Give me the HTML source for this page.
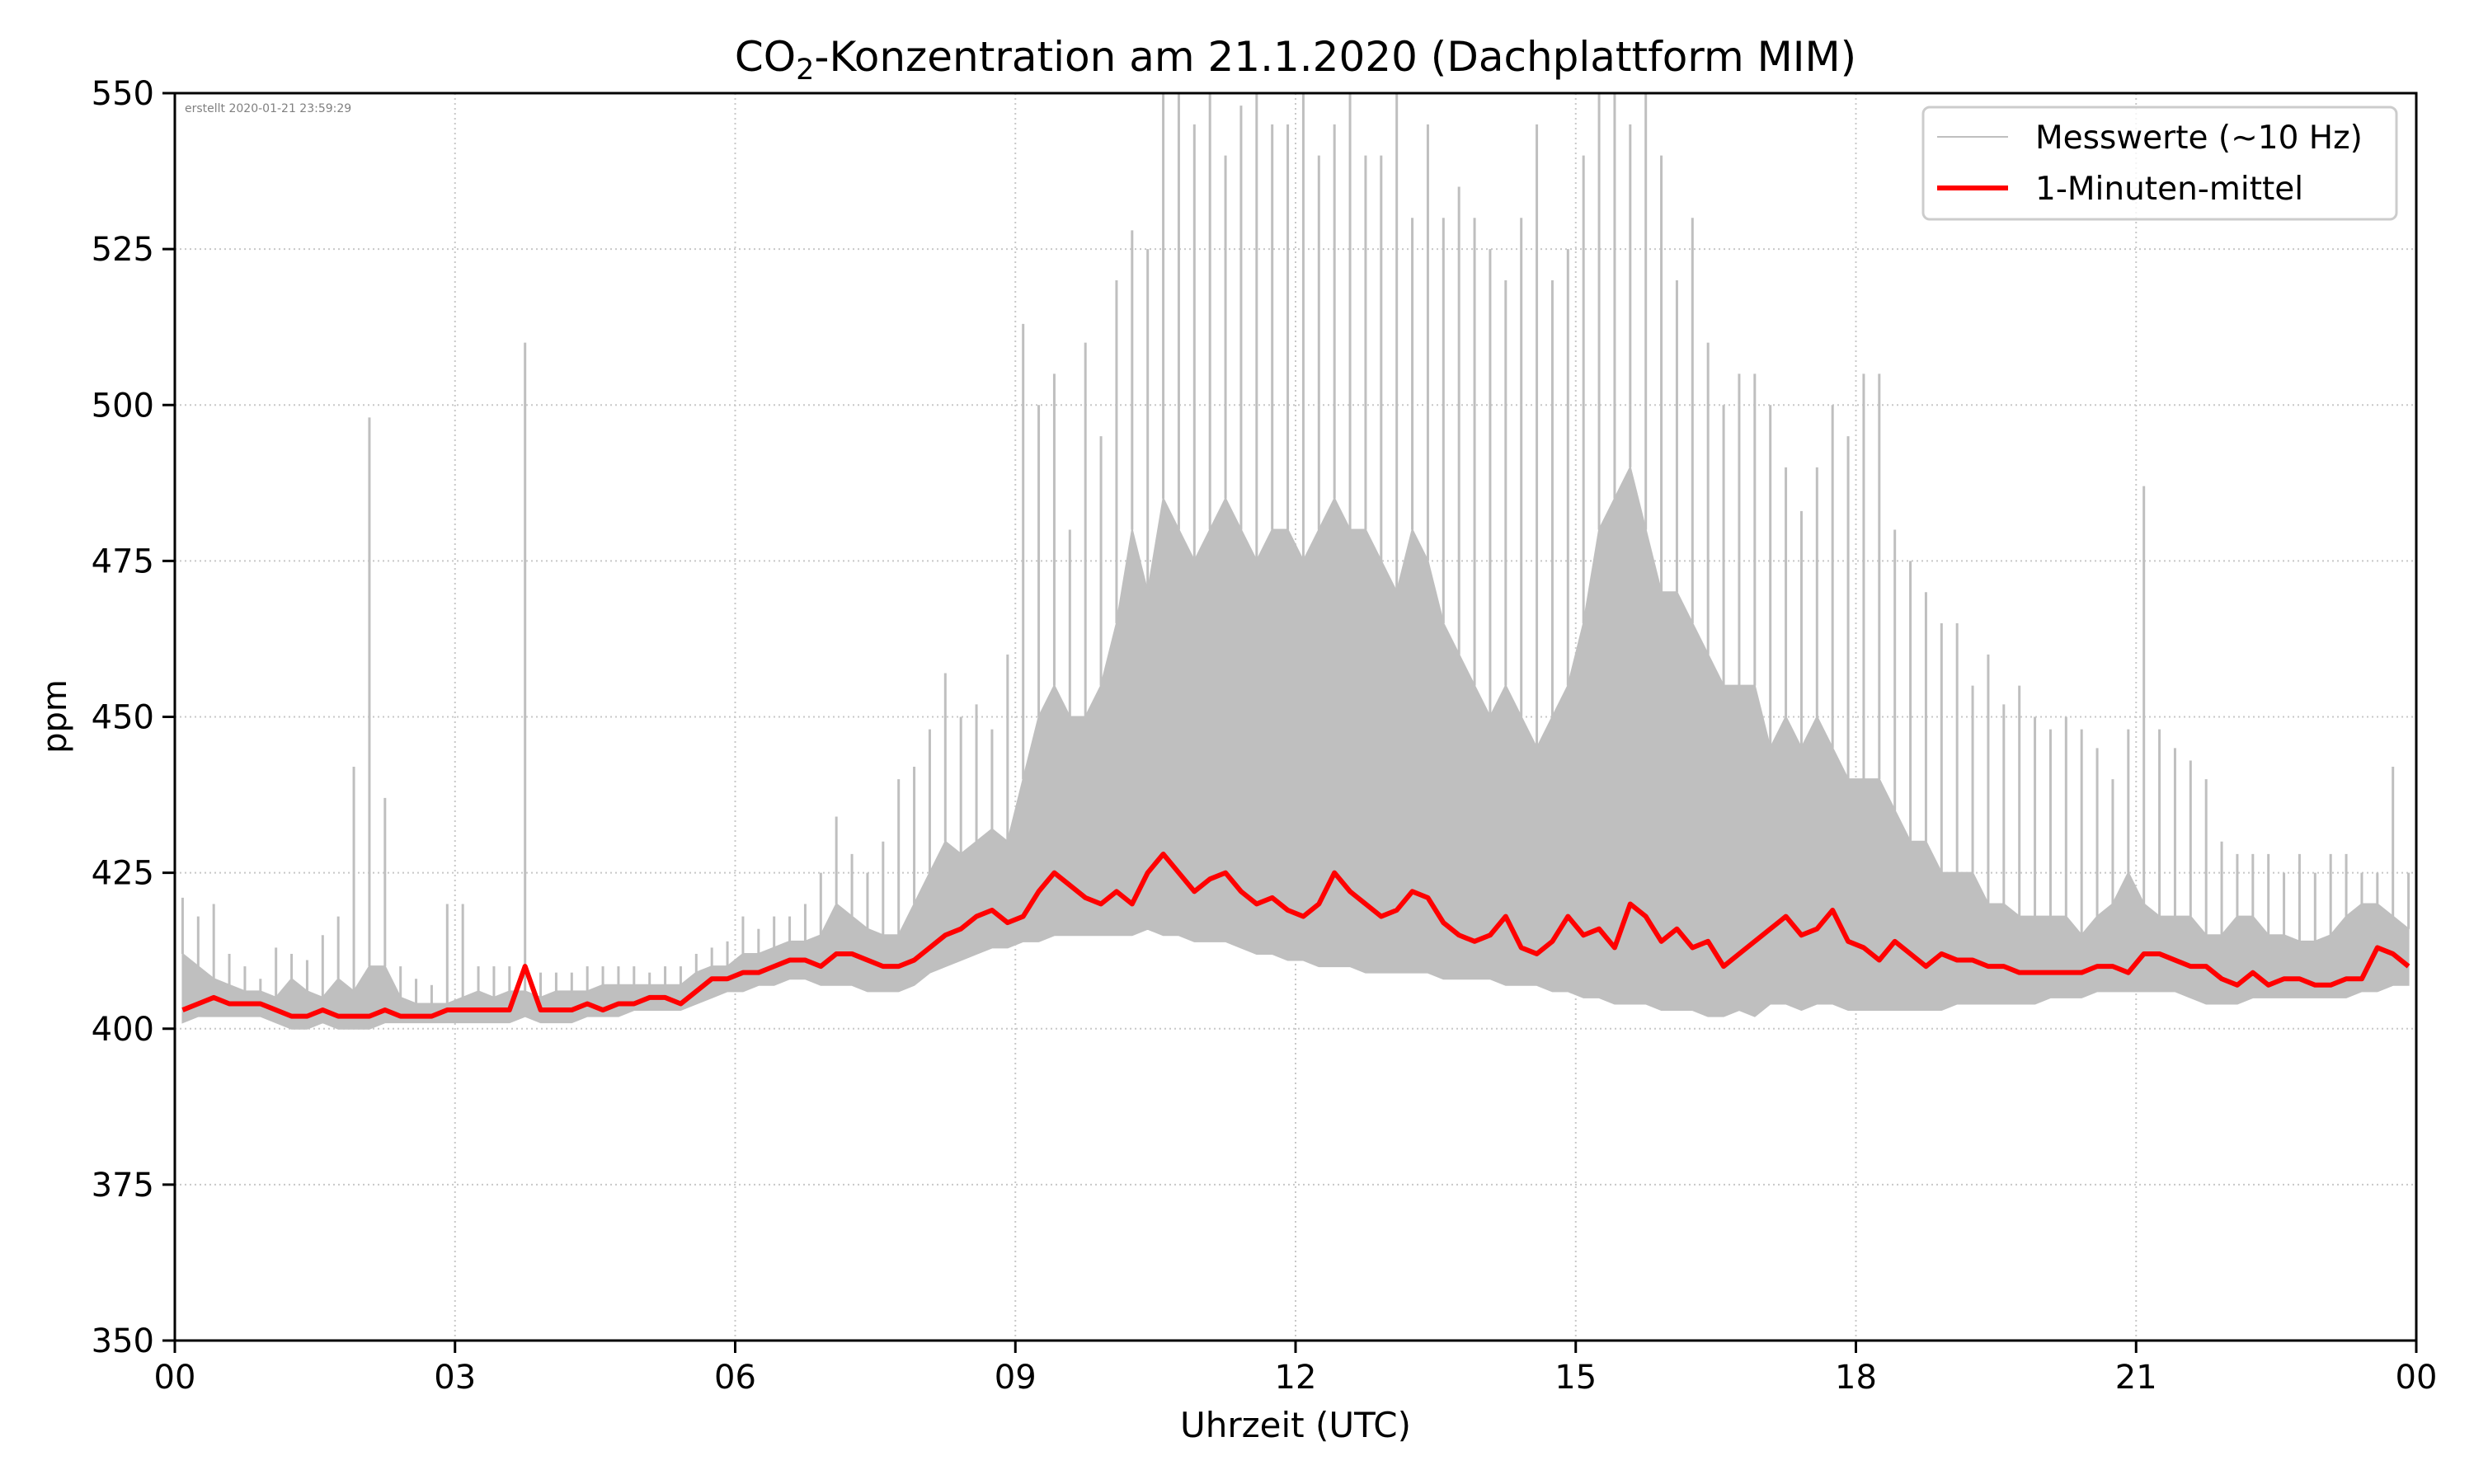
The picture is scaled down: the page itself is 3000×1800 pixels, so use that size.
<!DOCTYPE html>
<html><head><meta charset="utf-8"><style>
html,body{margin:0;padding:0;background:#fff;}
svg{display:block;font-family:"DejaVu Sans","Liberation Sans",sans-serif;}
</style></head><body>
<svg id="chart" width="3000" height="1800" viewBox="0 0 3000 1800">
<text x="1571" y="86" font-size="50" text-anchor="middle">CO<tspan font-size="35" dy="10">2</tspan><tspan dy="-10">-Konzentration am 21.1.2020 (Dachplattform MIM)</tspan></text>
<g id="grid"></g>
<g id="gray"></g>
<g id="red"></g>
<g id="axes"></g>
<text x="224" y="136" font-size="14" fill="#808080">erstellt 2020-01-21 23:59:29</text>
<text transform="translate(80,869) rotate(-90)" font-size="40" text-anchor="middle">ppm</text>
<text x="1571" y="1743" font-size="42" text-anchor="middle">Uhrzeit (UTC)</text>
<g>
<rect x="2332" y="130" width="574" height="136" rx="8" fill="#fff" fill-opacity="0.8" stroke="#cccccc" stroke-width="3"/>
<line x1="2349" y1="166" x2="2435" y2="166" stroke="#bfbfbf" stroke-width="2"/>
<text x="2468" y="180" font-size="39">Messwerte (~10 Hz)</text>
<line x1="2349" y1="228" x2="2435" y2="228" stroke="#ff0000" stroke-width="6"/>
<text x="2468" y="242" font-size="39">1-Minuten-mittel</text>
</g>
</svg>
<script>
const xTickLabels=["00","03","06","09","12","15","18","21","00"];
const yTickValues=[350,375,400,425,450,475,500,525,550];
const meanValues=[403,404,405,404,404,404,403,402,402,403,402,402,402,403,402,402,402,403,403,403,403,403,410,403,403,403,404,403,404,404,405,405,404,406,408,408,409,409,410,411,411,410,412,412,411,410,410,411,413,415,416,418,419,417,418,422,425,423,421,420,422,420,425,428,425,422,424,425,422,420,421,419,418,420,425,422,420,418,419,422,421,417,415,414,415,418,413,412,414,418,415,416,413,420,418,414,416,413,414,410,412,414,416,418,415,416,419,414,413,411,414,412,410,412,411,411,410,410,409,409,409,409,409,410,410,409,412,412,411,410,410,408,407,409,407,408,408,407,407,408,408,413,412,410];
const lowValues=[401,402,402,402,402,402,401,400,400,401,400,400,400,401,401,401,401,401,401,401,401,401,402,401,401,401,402,402,402,403,403,403,403,404,405,406,406,407,407,408,408,407,407,407,406,406,406,407,409,410,411,412,413,413,414,414,415,415,415,415,415,415,416,415,415,414,414,414,413,412,412,411,411,410,410,410,409,409,409,409,409,408,408,408,408,407,407,407,406,406,405,405,404,404,404,403,403,403,402,402,403,402,404,404,403,404,404,403,403,403,403,403,403,403,404,404,404,404,404,404,405,405,405,406,406,406,406,406,406,405,404,404,404,405,405,405,405,405,405,405,406,406,407,407];
const highValues=[412,410,408,407,406,406,405,408,406,405,408,406,410,410,405,404,404,404,405,406,405,406,406,405,406,406,406,407,407,407,407,407,407,409,410,410,412,412,413,414,414,415,420,418,416,415,415,420,425,430,428,430,432,430,440,450,455,450,450,455,465,480,470,485,480,475,480,485,480,475,480,480,475,480,485,480,480,475,470,480,475,465,460,455,450,455,450,445,450,455,465,480,485,490,480,470,470,465,460,455,455,455,445,450,445,450,445,440,440,440,435,430,430,425,425,425,420,420,418,418,418,418,415,418,420,425,420,418,418,418,415,415,418,418,415,415,414,414,415,418,420,420,418,416];
const peakValues=[421,418,420,412,410,408,413,412,411,415,418,442,498,437,410,408,407,420,420,410,410,410,510,409,409,409,410,410,410,410,409,410,410,412,413,414,418,416,418,418,420,425,434,428,425,430,440,442,448,457,450,452,448,460,513,500,505,480,510,495,520,528,525,550,550,545,550,540,548,550,545,545,550,540,545,550,540,540,550,530,545,530,535,530,525,520,530,545,520,525,540,550,550,545,550,540,520,530,510,500,505,505,500,490,483,490,500,495,505,505,480,475,470,465,465,455,460,452,455,450,448,450,448,445,440,448,487,448,445,443,440,430,428,428,428,425,428,425,428,428,425,425,442,425];

const NS="http://www.w3.org/2000/svg";
const PL=212,PR=2930,PT=113,PB=1626;
const yMin=350,yMax=550,xMax=24;
const xs=h=>PL+(h/xMax)*(PR-PL);
const ys=v=>PB-(v-yMin)/(yMax-yMin)*(PB-PT);
const nBins=meanValues.length, bw=24/nBins;
function mk(tag,attrs,parent){const e=document.createElementNS(NS,tag);for(const k in attrs)e.setAttribute(k,attrs[k]);parent.appendChild(e);return e;}
const clampY=v=>ys(Math.min(v,yMax));

const gridG=document.getElementById('grid'),axesG=document.getElementById('axes');
xTickLabels.forEach((lab,i)=>{
  const x=xs(i*3);
  const g=mk('line',{x1:x,x2:x,y1:PT,y2:PB,stroke:'#c8c8c8','stroke-width':2,'stroke-dasharray':'2,4'},gridG);
  
  
  const t=mk('line',{x1:x,x2:x,y1:PB,y2:PB+15,stroke:'#000','stroke-width':3},axesG);
  
  
  const tx=mk('text',{x:x,y:PB+58,'font-size':40,'text-anchor':'middle'},axesG);
  tx.textContent=lab;
  
  
});
yTickValues.forEach(v=>{
  const y=ys(v);
  const g=mk('line',{x1:PL,x2:PR,y1:y,y2:y,stroke:'#c8c8c8','stroke-width':2,'stroke-dasharray':'2,4'},gridG);
  
  
  const t=mk('line',{x1:PL-15,x2:PL,y1:y,y2:y,stroke:'#000','stroke-width':3},axesG);
  
  
  const tx=mk('text',{x:PL-25,y:y+14,'font-size':40,'text-anchor':'end'},axesG);
  tx.textContent=String(v);
  
  
});
const frame=mk('rect',{x:PL,y:PT,width:PR-PL,height:PB-PT,fill:'none',stroke:'#000','stroke-width':3},axesG);



const grayG=document.getElementById('gray');
const upperPts=[],lowerPts=[];
for(let i=0;i<nBins;i++){const x=xs((i+0.5)*bw);upperPts.push(x+','+clampY(highValues[i]));lowerPts.unshift(x+','+ys(lowValues[i]));}
const band=mk('polygon',{points:upperPts.concat(lowerPts).join(' '),fill:'#bfbfbf',stroke:'#bfbfbf','stroke-width':2},grayG);


for(let i=0;i<nBins;i++){
  const x=xs((i+0.5)*bw);
  const s=mk('line',{x1:x,x2:x,y1:clampY(highValues[i]),y2:clampY(peakValues[i]),stroke:'#bfbfbf','stroke-width':3},grayG);
  
  
}
const redG=document.getElementById('red');
const meanPts=meanValues.map((v,i)=>xs((i+0.5)*bw)+','+ys(v)).join(' ');
const pl=mk('polyline',{points:meanPts,fill:'none',stroke:'#ff0000','stroke-width':6,'stroke-linejoin':'round'},redG);


</script>
</body></html>
